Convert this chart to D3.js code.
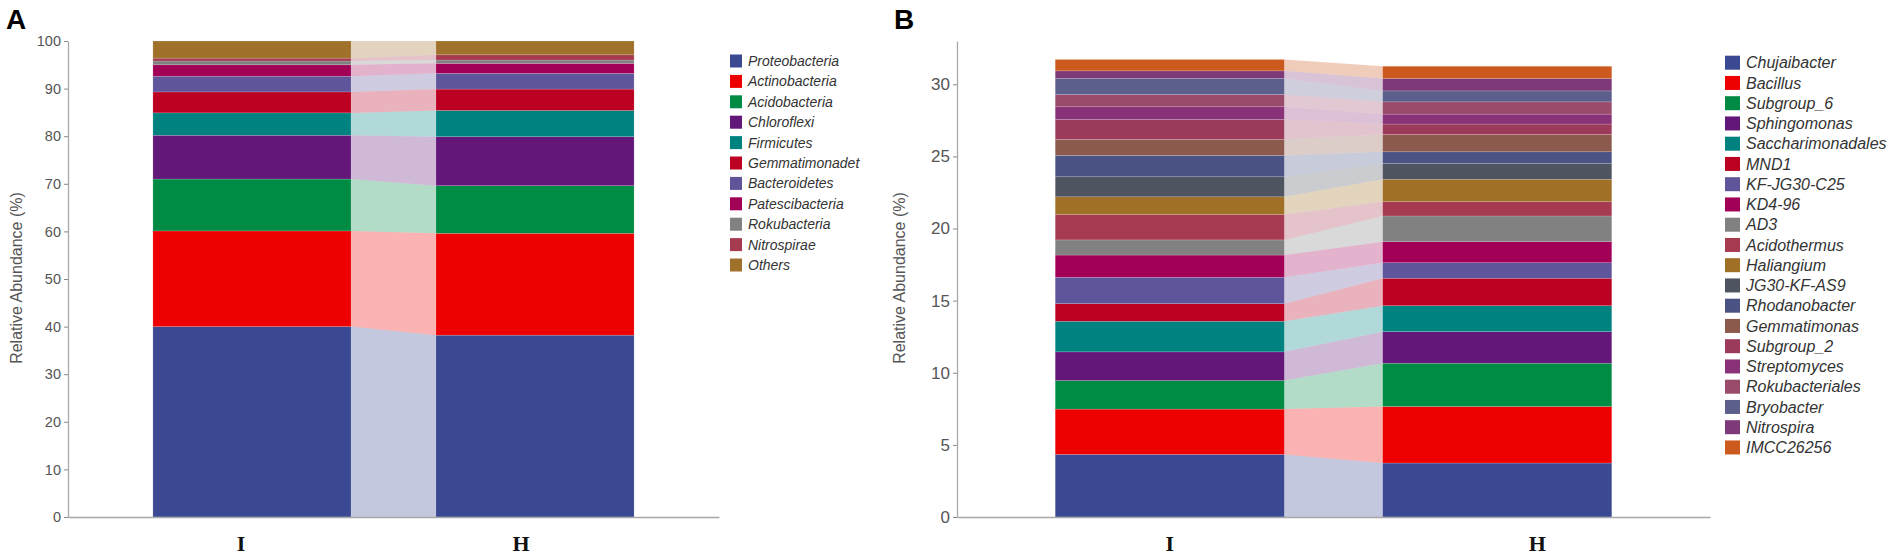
<!DOCTYPE html>
<html>
<head>
<meta charset="utf-8">
<script src="https://cdn.jsdelivr.net/npm/d3@7"></script>
<style>
  html, body { margin: 0; padding: 0; background: #fff; }
  svg { display: block; }
</style>
</head>
<body>
<svg id="chart" width="1902" height="560"></svg>
<script>
// ---------- DATA ----------
const samples = ["I", "H"];

// Panel A : phylum level (%)
const phylaA = ["Proteobacteria", "Actinobacteria", "Acidobacteria", "Chloroflexi", "Firmicutes",
  "Gemmatimonadet", "Bacteroidetes", "Patescibacteria", "Rokubacteria", "Nitrospirae", "Others"];
const phylaA_I = [40.0, 20.1, 10.9, 9.2, 4.7, 4.4, 3.3, 2.4, 0.8, 0.6, 3.6];
const phylaA_H = [38.2, 21.4, 10.0, 10.3, 5.5, 4.5, 3.3, 2.1, 0.7, 1.1, 2.9];
const colorsA = ["#3B4992", "#EE0000", "#008B45", "#631879", "#008280", "#BB0021",
  "#5F559B", "#A20056", "#808180", "#A63A50", "#A0712A"];
const ticksA = [0, 10, 20, 30, 40, 50, 60, 70, 80, 90, 100];

// Panel B : genus level (%)
const generaB = ["Chujaibacter", "Bacillus", "Subgroup_6", "Sphingomonas", "Saccharimonadales",
  "MND1", "KF-JG30-C25", "KD4-96", "AD3", "Acidothermus", "Haliangium", "JG30-KF-AS9",
  "Rhodanobacter", "Gemmatimonas", "Subgroup_2", "Streptomyces", "Rokubacteriales",
  "Bryobacter", "Nitrospira", "IMCC26256"];
const generaB_I = [4.34, 3.14, 1.98, 1.99, 2.12, 1.22, 1.83, 1.54, 1.05, 1.77, 1.22, 1.39,
  1.48, 1.11, 1.38, 0.88, 0.85, 1.11, 0.53, 0.79];
const generaB_H = [3.74, 3.92, 3.00, 2.19, 1.80, 1.90, 1.08, 1.46, 1.78, 0.99, 1.55, 1.10,
  0.81, 1.20, 0.72, 0.69, 0.85, 0.76, 0.86, 0.85];
const colorsB = ["#3B4992", "#EE0000", "#008B45", "#631879", "#008280", "#BB0021",
  "#5F559B", "#A20056", "#808180", "#A63A50", "#A07026", "#4F5560", "#4A5384",
  "#8B5A4C", "#9C3A5C", "#8A3278", "#9A4A6A", "#5C5E8C", "#7E3A78", "#CC5A1E"];
const ticksB = [0, 5, 10, 15, 20, 25, 30];
const yMaxB = 33;

// ---------- DRAW ----------
const svg = d3.select("#chart");

function drawPanel(cfg) {
  const g = svg.append("g");
  const x = d3.scaleBand().domain(samples).range(cfg.xRange).paddingInner(0.3).paddingOuter(0.3);
  const y = d3.scaleLinear().domain([0, cfg.yMax]).range([517, 41]);

  // build stacked table
  const rows = samples.map((s, si) => {
    const o = { sample: s };
    cfg.names.forEach((n, i) => { o[n] = cfg.values[si][i]; });
    return o;
  });
  const stack = d3.stack().keys(cfg.names)(rows);

  // connectors
  const xIr = x("I") + x.bandwidth();
  const xHl = x("H");
  g.append("g").selectAll("path").data(stack).join("path")
    .attr("d", layer => {
      const a = layer[0], b = layer[1];
      return `M${xIr},${y(a[1])}L${xHl},${y(b[1])}L${xHl},${y(b[0])}L${xIr},${y(a[0])}Z`;
    })
    .attr("fill", (d, i) => cfg.colors[i])
    .attr("fill-opacity", 0.3);

  // bars
  g.append("g").selectAll("g").data(stack).join("g")
    .attr("fill", (d, i) => cfg.colors[i])
    .selectAll("rect").data(d => d).join("rect")
    .attr("x", d => x(d.data.sample))
    .attr("width", x.bandwidth())
    .attr("y", d => y(d[1]))
    .attr("height", d => y(d[0]) - y(d[1]))
    .attr("stroke", "rgba(255,255,255,0.25)")
    .attr("stroke-width", 0.6);

  // y axis
  const ya = g.append("g").attr("transform", `translate(${cfg.xRange[0]},0)`)
    .call(d3.axisLeft(y).tickValues(cfg.ticks).tickSize(4).tickSizeOuter(0).tickPadding(3));
  ya.select(".domain").attr("stroke", "#a8a8a8").attr("stroke-width", 1.3);
  ya.selectAll(".tick line").attr("stroke", "#888");
  ya.selectAll(".tick text").attr("fill", "#555")
    .attr("font-family", "Liberation Sans, Arial, sans-serif")
    .attr("font-size", cfg.tickFont);

  // x axis
  const xa = g.append("g").attr("transform", `translate(0,517)`)
    .call(d3.axisBottom(x).tickSize(0).tickSizeOuter(0).tickPadding(18));
  xa.select(".domain").attr("stroke", "#a8a8a8").attr("stroke-width", 1.3);
  xa.selectAll(".tick text")
    .attr("fill", "#111")
    .attr("font-family", "Liberation Serif, Times New Roman, serif")
    .attr("font-weight", "bold")
    .attr("font-size", 22)
    .attr("dx", (d, i) => cfg.labelShift[i]);

  // y title
  g.append("text")
    .attr("transform", `translate(${cfg.titleX},278) rotate(-90)`)
    .attr("text-anchor", "middle")
    .attr("fill", "#555")
    .attr("font-family", "Liberation Sans, Arial, sans-serif")
    .attr("font-size", 16)
    .text("Relative Abundance (%)");

  // panel letter
  g.append("text")
    .attr("x", cfg.letterX).attr("y", 29)
    .attr("font-family", "Liberation Sans, Arial, sans-serif")
    .attr("font-weight", "bold").attr("font-size", 28)
    .attr("fill", "#000")
    .text(cfg.letter);

  // legend
  const lg = g.append("g").selectAll("g").data(cfg.names).join("g")
    .attr("transform", (d, i) => `translate(${cfg.legX},${cfg.legY + i * cfg.legStep})`);
  lg.append("rect")
    .attr("x", 0).attr("y", -cfg.sqH / 2)
    .attr("width", cfg.sqW).attr("height", cfg.sqH)
    .attr("fill", (d, i) => cfg.colors[i]);
  lg.append("text")
    .attr("x", cfg.legTextX).attr("y", 0).attr("dy", "0.35em")
    .attr("fill", "#333")
    .attr("font-family", "Liberation Sans, Arial, sans-serif")
    .attr("font-style", "italic")
    .attr("font-size", cfg.legFont)
    .text(d => d);
}

drawPanel({
  names: phylaA, values: [phylaA_I, phylaA_H], colors: colorsA, ticks: ticksA, yMax: 100,
  xRange: [68, 719], tickFont: 14.5, titleX: 22, letter: "A", letterX: 6,
  labelShift: [-11, -14],
  legX: 730, legY: 61, legStep: 20.4, sqW: 12, sqH: 13, legTextX: 18, legFont: 14
});

drawPanel({
  names: generaB, values: [generaB_I, generaB_H], colors: colorsB, ticks: ticksB, yMax: yMaxB,
  xRange: [957, 1710], tickFont: 17, titleX: 905, letter: "B", letterX: 894,
  labelShift: [0, 40],
  legX: 1725, legY: 62.7, legStep: 20.25, sqW: 15, sqH: 14, legTextX: 21, legFont: 16
});
</script>
</body>
</html>
